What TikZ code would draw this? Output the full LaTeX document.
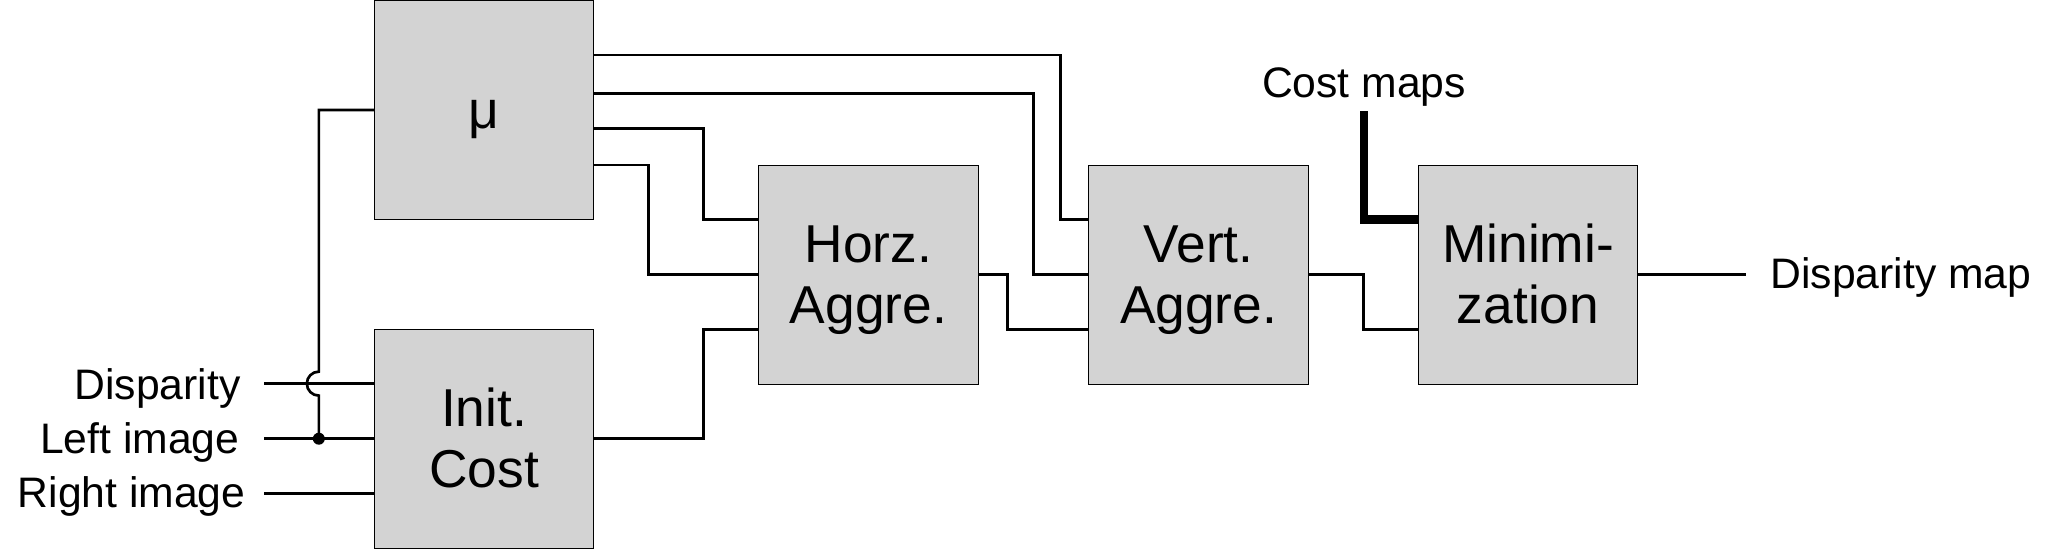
\documentclass[tikz,border=0pt]{standalone}
\usepackage{fontspec}
\setmainfont{Liberation Sans}
\usetikzlibrary{calc}

\definecolor{boxgray}{RGB}{211,211,211}
\newcommand{\blkstrut}{\rule[-8.5pt]{0pt}{44.7pt}}

\tikzset{every picture/.style={line width=0.75pt}}
\tikzset{
  blk/.style={draw, fill=boxgray, line width=0.75pt, minimum width=164.5pt, minimum height=164.5pt, inner sep=0pt, align=center, font=\fontsize{40}{46}\selectfont},
  lbl/.style={inner sep=0pt, font=\fontsize{32}{38}\selectfont},
  wire/.style={line width=2pt},
}

\begin{document}
\begin{tikzpicture}[x=0.75pt,y=0.75pt,yscale=-1,xscale=1]
\useasboundingbox (0,0) rectangle (2056,550);

%Shape: Rectangle [mu]
\node [blk] (mu) at (484,110) {μ\blkstrut};
%Shape: Rectangle [init]
\node [blk] (init) at (484,438.7) {Init.\blkstrut\\Cost\blkstrut};
%Shape: Rectangle [horz]
\node [blk] (horz) at (868.4,274.7) {Horz.\blkstrut\\Aggre.\blkstrut};
%Shape: Rectangle [vert]
\node [blk] (vert) at (1198.6,274.7) {Vert.\blkstrut\\Aggre.\blkstrut};
%Shape: Rectangle [minz]
\node [blk] (minz) at (1528,274.7) {Minimi-\blkstrut\\zation\blkstrut};

% Text Node
\node [lbl, anchor=base east] (disp) at (241,399) {Disparity};
% Text Node
\node [lbl, anchor=base east] (leftimg) at (240,453.5) {Left image};
% Text Node
\node [lbl, anchor=base east] (rightimg) at (246,507.5) {Right image};
% Text Node
\node [lbl, anchor=base] (costmaps) at (1364,97.3) {Cost maps};
% Text Node
\node [lbl, anchor=base west] (dispmap) at (1770,288.3) {Disparity map};

% ports
\coordinate (muA) at ($(mu.north east)!.25!(mu.south east)$);
\coordinate (muB) at ($(mu.north east)!.425!(mu.south east)$);
\coordinate (muC) at ($(mu.north east)!.585!(mu.south east)$);
\coordinate (muD) at ($(mu.north east)!.75!(mu.south east)$);
\coordinate (iA) at ($(init.north west)!.25!(init.south west)$);
\coordinate (iC) at ($(init.north west)!.75!(init.south west)$);
\coordinate (hA) at ($(horz.north west)!.25!(horz.south west)$);
\coordinate (hC) at ($(horz.north west)!.75!(horz.south west)$);
\coordinate (vA) at ($(vert.north west)!.25!(vert.south west)$);
\coordinate (vC) at ($(vert.north west)!.75!(vert.south west)$);
\coordinate (mA) at ($(minz.north west)!.25!(minz.south west)$);
\coordinate (mC) at ($(minz.north west)!.75!(minz.south west)$);
\coordinate (jn) at ($(init.west)+(-55,0)$);

% inputs
\draw [wire] ($(disp.base east |- iA)+(23,0)$) -- (iA);
\draw [wire] ($(leftimg.base east |- init.west)+(24,0)$) -- (init.west);
\draw [wire] ($(rightimg.base east |- iC)+(18,0)$) -- (iC);
\draw [wire] (jn) -- ($(jn |- iA)+(0,12)$) arc[start angle=90,end angle=270,radius=12] |- (mu.west);
\fill (jn) circle [radius=6];

% mu outputs
\draw [wire] (muA) -| ($(vA)+(-28,0)$) -- (vA);
\draw [wire] (muB) -| ($(vert.west)+(-55,0)$) -- (vert.west);
\draw [wire] (muC) -| ($(hA)+(-55,0)$) -- (hA);
\draw [wire] (muD) -| ($(horz.west)+(-110,0)$) -- (horz.west);

% chain
\draw [wire] (init.east) -| ($(hC)+(-55,0)$) -- (hC);
\draw [wire] (horz.east) -- ++(29,0) |- (vC);
\draw [wire] (vert.east) -- ++(55,0) |- (mC);
\draw [line width=6.4pt] ($(costmaps.base)+(0,14)$) |- (mA);
\draw [wire] (minz.east) -- ($(dispmap.base west |- minz.east)+(-24,0)$);

\end{tikzpicture}
\end{document}
